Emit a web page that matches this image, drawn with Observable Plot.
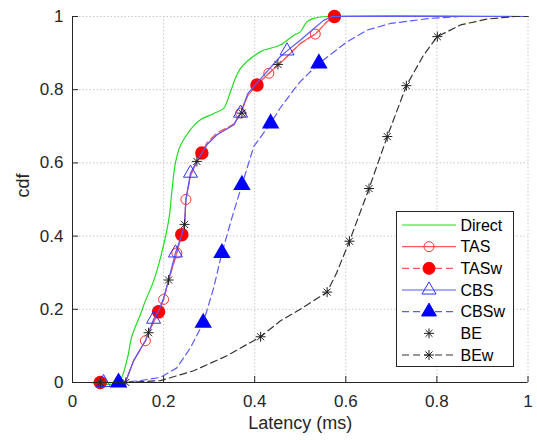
<!DOCTYPE html>
<html>
<head>
<meta charset="utf-8">
<script src="https://cdn.jsdelivr.net/npm/d3@7"></script>
<script src="https://cdn.jsdelivr.net/npm/@observablehq/plot@0.6"></script>
<style>
  body { margin: 0; background: #fff; }
  #wrap { position: relative; width: 537px; height: 440px; }
  #wrap svg { display: block; }
  #legend { position: absolute; left: 0; top: 0; }
</style>
</head>
<body>
<div id="wrap"></div>
<script>
// ---------- data ----------
const xTicks = [0, 0.2, 0.4, 0.6, 0.8, 1];
const xTickLabels = ["0", "0.2", "0.4", "0.6", "0.8", "1"];
const yTicks = [0, 0.2, 0.4, 0.6, 0.8, 1];
const yTickLabels = ["0", "0.2", "0.4", "0.6", "0.8", "1"];
const xLabel = "Latency (ms)";
const yLabel = "cdf";
const seriesNames = ["Direct", "TAS", "TASw", "CBS", "CBSw", "BE", "BEw"];

// Direct (line only)
const directX = [0.04, 0.10, 0.12, 0.13, 0.149, 0.16, 0.178, 0.195, 0.212, 0.218, 0.226, 0.236, 0.251, 0.265, 0.281, 0.31, 0.332, 0.34, 0.347, 0.369, 0.413, 0.456, 0.486, 0.50, 0.515, 0.53, 0.56, 1];
const directY = [0, 0, 0.064, 0.125, 0.186, 0.223, 0.277, 0.35, 0.45, 0.52, 0.60, 0.645, 0.677, 0.70, 0.718, 0.735, 0.749, 0.77, 0.795, 0.858, 0.904, 0.922, 0.949, 0.958, 0.986, 0.995, 1, 1];

// TAS line + markers
const tasX = [0.061, 0.116, 0.134, 0.16, 0.167, 0.178, 0.189, 0.20, 0.211, 0.229, 0.24, 0.246, 0.249, 0.259, 0.273, 0.284, 0.295, 0.317, 0.354, 0.369, 0.385, 0.405, 0.431, 0.456, 0.50, 0.533, 0.559, 0.575, 1];
const tasY = [0, 0, 0.059, 0.114, 0.136, 0.165, 0.193, 0.227, 0.28, 0.354, 0.404, 0.432, 0.50, 0.565, 0.604, 0.627, 0.65, 0.677, 0.704, 0.736, 0.785, 0.813, 0.845, 0.872, 0.926, 0.952, 0.986, 1, 1];
const tasMarkX = [0.061, 0.16, 0.20, 0.229, 0.249, 0.284, 0.369, 0.431, 0.533];
const tasMarkY = [0, 0.114, 0.227, 0.354, 0.50, 0.627, 0.736, 0.845, 0.952];

// TASw line + markers
const taswX = [0.061, 0.116, 0.134, 0.16, 0.167, 0.178, 0.189, 0.20, 0.211, 0.229, 0.24, 0.246, 0.249, 0.259, 0.273, 0.284, 0.295, 0.317, 0.354, 0.369, 0.385, 0.405, 0.431, 0.456, 0.50, 0.533, 0.559, 0.575, 1];
const taswY = [0, 0, 0.059, 0.114, 0.136, 0.165, 0.193, 0.227, 0.28, 0.354, 0.404, 0.432, 0.50, 0.565, 0.604, 0.627, 0.655, 0.682, 0.706, 0.736, 0.785, 0.813, 0.845, 0.872, 0.926, 0.952, 0.986, 1, 1];
const taswMarkX = [0.061, 0.189, 0.24, 0.284, 0.405, 0.575];
const taswMarkY = [0, 0.193, 0.404, 0.627, 0.813, 1];

// CBS line + markers
const cbsX = [0.068, 0.116, 0.134, 0.16, 0.167, 0.178, 0.189, 0.20, 0.211, 0.226, 0.24, 0.246, 0.249, 0.259, 0.273, 0.284, 0.295, 0.317, 0.354, 0.369, 0.385, 0.42, 0.456, 0.471, 0.50, 0.53, 0.552, 0.57, 1];
const cbsY = [0, 0, 0.059, 0.114, 0.136, 0.173, 0.195, 0.23, 0.28, 0.354, 0.404, 0.432, 0.50, 0.572, 0.604, 0.627, 0.65, 0.677, 0.704, 0.736, 0.79, 0.84, 0.89, 0.906, 0.935, 0.967, 0.99, 1, 1];
const cbsMarkX = [0.068, 0.178, 0.226, 0.259, 0.369, 0.471];
const cbsMarkY = [0, 0.173, 0.354, 0.572, 0.736, 0.906];

// CBSw line + markers
const cbswX = [0.101, 0.149, 0.193, 0.229, 0.259, 0.287, 0.31, 0.328, 0.35, 0.372, 0.398, 0.435, 0.456, 0.486, 0.50, 0.541, 0.603, 0.647, 0.698, 0.786, 0.85, 1];
const cbswY = [0, 0.005, 0.014, 0.04, 0.095, 0.163, 0.259, 0.354, 0.45, 0.54, 0.645, 0.708, 0.75, 0.80, 0.822, 0.872, 0.931, 0.963, 0.981, 0.995, 1, 1];
const cbswMarkX = [0.101, 0.287, 0.328, 0.372, 0.435, 0.541];
const cbswMarkY = [0, 0.163, 0.354, 0.54, 0.708, 0.872];

// BE (markers only)
const beMarkX = [0.061, 0.167, 0.211, 0.246, 0.273, 0.372, 0.451];
const beMarkY = [0, 0.136, 0.28, 0.432, 0.604, 0.736, 0.869];

// BEw line + markers
const bewX = [0.117, 0.193, 0.266, 0.339, 0.413, 0.456, 0.50, 0.559, 0.58, 0.608, 0.651, 0.691, 0.733, 0.771, 0.801, 0.852, 0.911, 0.97, 1];
const bewY = [0, 0.005, 0.032, 0.073, 0.125, 0.168, 0.20, 0.247, 0.30, 0.386, 0.53, 0.672, 0.811, 0.895, 0.945, 0.977, 0.993, 1, 1];
const bewMarkX = [0.117, 0.413, 0.559, 0.608, 0.651, 0.691, 0.733, 0.801];
const bewMarkY = [0, 0.125, 0.247, 0.386, 0.53, 0.672, 0.811, 0.945];

// ---------- layout / style ----------
const W = 537, H = 440;
const mL = 72, mR = 9.5, mT = 16, mB = 58;
const tickPx = 6;
const tickLenY = tickPx / (H - mT - mB);
const tickLenX = tickPx / (W - mL - mR);
const axisColor = "#262626";
const font = "'Liberation Sans', Arial, Helvetica, sans-serif";

const C = {
  green: "#22dd22",
  redLine: "#ff5a5a",
  red: "#ff0000",
  redOpen: "#ff3030",
  blueLine: "#5a5aff",
  blue: "#0000ff",
  blueOpen: "#3030ff",
  black: "#222222"
};

// MATLAB-style 8-arm asterisk (plus + cross)
const star8 = {
  draw(context, size) {
    const r = Math.sqrt(size / Math.PI);
    const d = r * Math.SQRT1_2;
    context.moveTo(-r, 0); context.lineTo(r, 0);
    context.moveTo(0, -r); context.lineTo(0, r);
    context.moveTo(-d, -d); context.lineTo(d, d);
    context.moveTo(-d, d); context.lineTo(d, -d);
  }
};

const pts = (xs, ys) => xs.map((x, i) => ({x, y: ys[i]}));

const chart = Plot.plot({
  width: W, height: H,
  marginLeft: mL, marginRight: mR, marginTop: mT, marginBottom: mB,
  x: {domain: [0, 1]},
  y: {domain: [0, 1]},
  style: {fontFamily: font, fontSize: "17px", color: axisColor, background: "white"},
  marks: [
    Plot.gridX(xTicks, {stroke: "#c8c8c8", strokeOpacity: 1, strokeDasharray: "1.5,2"}),
    Plot.gridY(yTicks, {stroke: "#c8c8c8", strokeOpacity: 1, strokeDasharray: "1.5,2"}),
    // Direct
    Plot.line(pts(directX, directY), {x: "x", y: "y", stroke: C.green, strokeWidth: 1.2, curve: "catmull-rom"}),
    // TAS
    Plot.line(pts(tasX, tasY), {x: "x", y: "y", stroke: C.redLine, strokeWidth: 1.2}),
    Plot.dot(pts(tasMarkX, tasMarkY), {x: "x", y: "y", r: 5, stroke: C.redOpen, strokeWidth: 1, fill: "none"}),
    // TASw
    Plot.line(pts(taswX, taswY), {x: "x", y: "y", stroke: C.redLine, strokeWidth: 1.2, strokeDasharray: "7,4"}),
    Plot.dot(pts(taswMarkX, taswMarkY), {x: "x", y: "y", r: 6, fill: C.red, stroke: C.red}),
    // CBS
    Plot.line(pts(cbsX, cbsY), {x: "x", y: "y", stroke: C.blueLine, strokeWidth: 1.2}),
    Plot.dot(pts(cbsMarkX, cbsMarkY), {x: "x", y: "y", r: 5.2, symbol: "triangle", stroke: C.blueOpen, strokeWidth: 1, fill: "none"}),
    // CBSw
    Plot.line(pts(cbswX, cbswY), {x: "x", y: "y", stroke: C.blueLine, strokeWidth: 1.2, strokeDasharray: "7,4"}),
    Plot.dot(pts(cbswMarkX, cbswMarkY), {x: "x", y: "y", r: 5.5, symbol: "triangle", fill: C.blue, stroke: C.blue}),
    // BE
    Plot.dot(pts(beMarkX, beMarkY), {x: "x", y: "y", r: 5, symbol: star8, stroke: C.black, strokeWidth: 1}),
    // BEw
    Plot.line(pts(bewX, bewY), {x: "x", y: "y", stroke: "#333333", strokeWidth: 1.2, strokeDasharray: "7,4"}),
    Plot.dot(pts(bewMarkX, bewMarkY), {x: "x", y: "y", r: 5, symbol: star8, stroke: C.black, strokeWidth: 1}),
    // axes
    Plot.ruleX([0], {stroke: axisColor, strokeWidth: 1}),
    Plot.ruleY([0], {stroke: axisColor, strokeWidth: 1}),
    Plot.ruleX(xTicks, {x: d => d, y1: 0, y2: tickLenY, stroke: axisColor}),
    Plot.ruleY(yTicks, {y: d => d, x1: 0, x2: tickLenX, stroke: axisColor}),
    Plot.axisX(xTicks, {tickSize: 0, tickPadding: 12, tickFormat: d => xTickLabels[xTicks.indexOf(d)], label: null, fill: axisColor}),
    Plot.axisY(yTicks, {tickSize: 0, tickPadding: 9, tickFormat: d => yTickLabels[yTicks.indexOf(d)], label: null, fill: axisColor}),
    Plot.text([xLabel], {frameAnchor: "bottom", dy: 46, fontSize: 18, fill: axisColor}),
    Plot.text([yLabel], {frameAnchor: "left", dx: -49, dy: -2, rotate: -90, fontSize: 18, fill: axisColor})
  ]
});
document.getElementById("wrap").appendChild(chart);

// ---------- legend (overlay) ----------
const lg = d3.select("#wrap").append("svg")
  .attr("id", "legend").attr("width", W).attr("height", H)
  .style("font-family", font);
const box = {x: 396.5, y: 211.5, w: 117, h: 155};
lg.append("rect").attr("x", box.x).attr("y", box.y).attr("width", box.w).attr("height", box.h)
  .attr("fill", "white").attr("stroke", axisColor).attr("stroke-width", 1);
const rowY0 = 225, rowStep = 21.67;
const legendSpec = [
  {line: C.green, dash: null, sym: null},
  {line: C.redLine, dash: null, sym: d3.symbolCircle, fill: "none", stroke: C.redOpen, r: 5},
  {line: C.redLine, dash: "7,4", sym: d3.symbolCircle, fill: C.red, stroke: C.red, r: 6},
  {line: C.blueLine, dash: null, sym: d3.symbolTriangle, fill: "none", stroke: C.blueOpen, r: 5.2},
  {line: C.blueLine, dash: "7,4", sym: d3.symbolTriangle, fill: C.blue, stroke: C.blue, r: 5.5},
  {line: null, dash: null, sym: star8, fill: "none", stroke: C.black, r: 5},
  {line: "#333333", dash: "7,4", sym: star8, fill: "none", stroke: C.black, r: 5}
];
seriesNames.forEach((name, i) => {
  const y = rowY0 + i * rowStep;
  const s = legendSpec[i];
  if (s.line) {
    lg.append("line").attr("x1", 402).attr("x2", 456).attr("y1", y).attr("y2", y)
      .attr("stroke", s.line).attr("stroke-width", 1.2).attr("stroke-dasharray", s.dash);
  }
  if (s.sym) {
    const path = d3.symbol(s.sym, Math.PI * s.r * s.r)();
    lg.append("path").attr("d", path).attr("transform", `translate(429,${y})`)
      .attr("fill", s.fill).attr("stroke", s.stroke).attr("stroke-width", 1);
  }
  lg.append("text").attr("x", 460.5).attr("y", y).attr("dy", "0.35em")
    .attr("font-size", 16).attr("fill", "#000").text(name);
});
</script>
</body>
</html>
